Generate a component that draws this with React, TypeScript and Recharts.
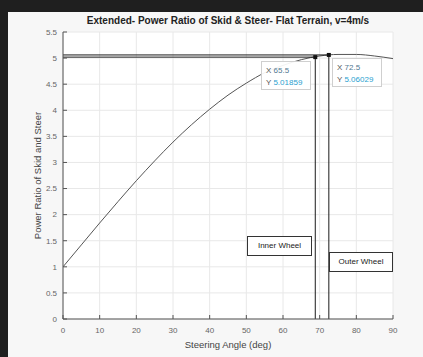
import { CartesianGrid, ComposedChart, Line, ReferenceDot, XAxis, YAxis } from 'recharts';

// steering angle (deg) vs power ratio
const angles = [0, 5, 10, 15, 20, 25, 30, 35, 40, 45, 50, 55, 60, 65, 70, 75, 80, 85, 90];
const ratios = [1.0, 1.42, 1.84, 2.25, 2.65, 3.03, 3.39, 3.72, 4.02, 4.29, 4.52, 4.72, 4.86, 4.97, 5.04, 5.07, 5.07, 5.04, 4.99];

// wheel guide lines: horizontal from the y axis, then down to zero
const innerX = [0, 68.8, 68.8];
const innerY = [5.0186, 5.0186, 0];
const outerX = [0, 72.5, 72.5];
const outerY = [5.0603, 5.0603, 0];

const xTicks = [0, 10, 20, 30, 40, 50, 60, 70, 80, 90];
const yTicks = [0, 0.5, 1, 1.5, 2, 2.5, 3, 3.5, 4, 4.5, 5, 5.5];

const curve = angles.map((x, i) => ({ x, y: ratios[i] }));
const inner = innerX.map((x, i) => ({ x, y: innerY[i] }));
const outer = outerX.map((x, i) => ({ x, y: outerY[i] }));

const FONT = '"Liberation Sans", Arial, sans-serif';
const AXIS = '#555';

function Square(props: { cx?: number; cy?: number }) {
  const { cx = 0, cy = 0 } = props;
  return <rect x={cx - 2} y={cy - 2} width={4} height={4} fill="#111" />;
}

function DataTip({ left, top, x, y }: { left: number; top: number; x: string; y: string }) {
  return (
    <div
      style={{
        position: 'absolute',
        left,
        top,
        width: 50,
        height: 29,
        background: 'rgba(255,255,255,0.92)',
        border: '1px solid #cfcfcf',
        fontFamily: FONT,
        fontSize: 8,
        lineHeight: '12px',
        padding: '3px 0 0 4px',
        boxSizing: 'border-box',
        color: '#555',
      }}
    >
      <div>
        X <span style={{ color: '#4f7890' }}>{x}</span>
      </div>
      <div>
        Y <span style={{ color: '#2a9fd0' }}>{y}</span>
      </div>
    </div>
  );
}

function TextBox({ left, top, width, text }: { left: number; top: number; width: number; text: string }) {
  return (
    <div
      style={{
        position: 'absolute',
        left,
        top,
        width,
        height: 20,
        background: '#fff',
        border: '1px solid #333',
        boxSizing: 'border-box',
        fontFamily: FONT,
        fontSize: 8,
        lineHeight: '18px',
        textAlign: 'center',
        color: '#222',
      }}
    >
      {text}
    </div>
  );
}

export default function App() {
  return (
    <div style={{ position: 'absolute', left: 0, top: 0, width: 423, height: 357, background: '#1f1f1f', overflow: 'hidden' }}>
      <div style={{ position: 'absolute', left: 8, top: 12, width: 415, height: 345, background: '#f7f7f7' }}>
        <ComposedChart width={415} height={345} margin={{ top: 20, right: 30, left: 0, bottom: 0 }}>
          <CartesianGrid xAxisId="b" yAxisId="l" stroke="#e8e8e8" fill="#fff" horizontalValues={yTicks} verticalValues={xTicks} />
          <XAxis
            xAxisId="b"
            dataKey="x"
            type="number"
            domain={[0, 90]}
            ticks={xTicks}
            allowDataOverflow
            height={38}
            tickSize={-4}
            tickMargin={12}
            stroke={AXIS}
            tick={{ fontSize: 8, fill: '#666', fontFamily: FONT }}
          />
          <XAxis
            xAxisId="t"
            orientation="top"
            dataKey="x"
            type="number"
            domain={[0, 90]}
            ticks={xTicks}
            height={0}
            tickSize={-4}
            stroke={AXIS}
            tickFormatter={() => ''}
          />
          <YAxis
            yAxisId="l"
            type="number"
            domain={[0, 5.5]}
            ticks={yTicks}
            allowDataOverflow
            width={55}
            tickSize={-4}
            tickMargin={10}
            stroke={AXIS}
            tick={{ fontSize: 8, fill: '#666', fontFamily: FONT }}
          />
          <YAxis
            yAxisId="r"
            orientation="right"
            type="number"
            domain={[0, 5.5]}
            ticks={yTicks}
            width={0}
            tickSize={-4}
            stroke={AXIS}
            tickFormatter={() => ''}
          />
          <Line xAxisId="b" yAxisId="l" data={curve} dataKey="y" type="monotone" stroke="#555" strokeWidth={1} dot={false} isAnimationActive={false} />
          <Line xAxisId="b" yAxisId="l" data={inner} dataKey="y" type="linear" stroke="#1a1a1a" strokeWidth={1} dot={false} isAnimationActive={false} />
          <Line xAxisId="b" yAxisId="l" data={outer} dataKey="y" type="linear" stroke="#1a1a1a" strokeWidth={1} dot={false} isAnimationActive={false} />
          <ReferenceDot xAxisId="b" yAxisId="l" x={innerX[1]} y={innerY[0]} shape={Square} />
          <ReferenceDot xAxisId="b" yAxisId="l" x={outerX[1]} y={outerY[0]} shape={Square} />
        </ComposedChart>
      </div>
      <div
        style={{
          position: 'absolute',
          left: 63,
          width: 330,
          top: 15,
          textAlign: 'center',
          fontFamily: FONT,
          fontWeight: 'bold',
          fontSize: 10,
          color: '#222',
        }}
      >
        Extended- Power Ratio of Skid &amp; Steer- Flat Terrain, v=4m/s
      </div>
      <div
        style={{
          position: 'absolute',
          left: 63,
          width: 330,
          top: 339,
          textAlign: 'center',
          fontFamily: FONT,
          fontSize: 9.5,
          color: '#444',
        }}
      >
        Steering Angle (deg)
      </div>
      <div
        style={{
          position: 'absolute',
          left: 37 - 100,
          top: 170,
          width: 200,
          textAlign: 'center',
          transform: 'rotate(-90deg)',
          fontFamily: FONT,
          fontSize: 9.5,
          color: '#444',
        }}
      >
        Power Ratio of Skid and Steer
      </div>
      <DataTip left={261} top={61} x="65.5" y="5.01859" />
      <DataTip left={332} top={58} x="72.5" y="5.06029" />
      <TextBox left={247} top={236} width={65} text="Inner Wheel" />
      <TextBox left={329} top={252} width={64} text="Outer Wheel" />
    </div>
  );
}
